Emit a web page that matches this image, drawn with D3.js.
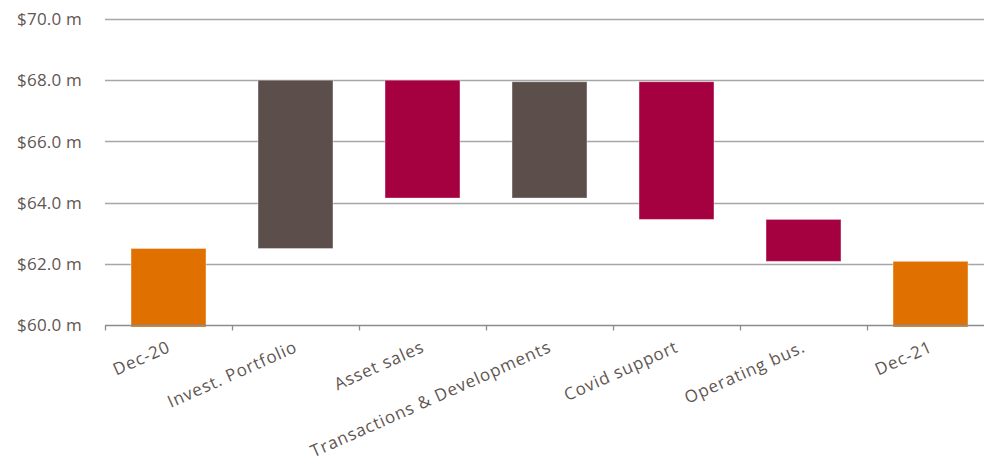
<!DOCTYPE html>
<html>
<head>
<meta charset="utf-8">
<script src="https://cdn.jsdelivr.net/npm/d3@7"></script>
<style>
  body { margin: 0; background: #fff; }
  text { font-family: "Century Gothic", "Open Sans", sans-serif; fill: #5f5652; }
</style>
</head>
<body>
<div id="chart"></div>
<script>
"use strict";

const categories = ["Dec-20", "Invest. Portfolio", "Asset sales", "Transactions & Developments",
  "Covid support", "Operating bus.", "Dec-21"];
const changes = [62.5, 5.5, -3.85, 3.8, -4.5, -1.37, null];
const kinds = ["total", "up", "down", "up", "down", "down", "total"];
const yTicks = [60, 62, 64, 66, 68, 70];

const colorFor = (kind) => {
  switch (kind) {
    case "total":
      return "#e07000";
    case "up":
      return "#5c4f4b";
    case "down":
      return "#a50040";
    default:
      return;
  }
};

// build the floating bars from running total
let running = 0;
const bars = categories.map((c, i) => {
  let lo, hi;
  if (kinds[i] === "total") {
    if (changes[i] !== null) running = changes[i];
    lo = 60; hi = running;
  } else {
    const before = running;
    running += changes[i];
    lo = Math.min(before, running);
    hi = Math.max(before, running);
  }
  return { name: c, lo: lo, hi: hi, kind: kinds[i] };
});

const w = 984, h = 465;
const svg = d3.select("#chart").append("svg").attr("width", w).attr("height", h);

const x = d3.scaleBand().domain(categories).range([105, 994])
  .paddingInner(0.41).paddingOuter(0.205);
const y = d3.scaleLinear().domain([60, 70]).range([325, 19]);

// gridlines + y labels
svg.append("g").selectAll("line").data(yTicks.slice(1)).enter().append("line")
  .attr("x1", 105).attr("x2", 994)
  .attr("y1", (d) => Math.round(y(d)) + 0.5).attr("y2", (d) => Math.round(y(d)) + 0.5)
  .attr("stroke", "#a6a6a6").attr("stroke-width", 1.3);

svg.append("g").selectAll("text").data(yTicks).enter().append("text")
  .attr("x", 82).attr("y", (d) => y(d)).attr("dy", "0.36em")
  .attr("text-anchor", "end").style("font-size", "17px").style("letter-spacing", "0.2px")
  .text((d) => "$" + d.toFixed(1) + " m");

// bars
svg.append("g").selectAll("rect").data(bars).enter().append("rect")
  .attr("x", (d) => x(d.name)).attr("width", x.bandwidth())
  .attr("y", (d) => y(d.hi)).attr("height", (d) => y(d.lo) - y(d.hi) + (d.lo === 60 ? 2 : 0))
  .attr("fill", (d) => colorFor(d.kind))
  .attr("stroke", "#fff").attr("stroke-opacity", 0.35).attr("stroke-width", 1);

// x axis on top of bars
const axisG = svg.append("g").attr("transform", "translate(0,325.5)");
axisG.append("line").attr("x1", 105).attr("x2", 994).attr("stroke", "#8c8c8c").attr("stroke-width", 1.3);
const step = x.step();
axisG.selectAll(".tk").data(d3.range(categories.length)).enter().append("line")
  .attr("x1", (i) => Math.round(105 + i * step) + 0.5).attr("x2", (i) => Math.round(105 + i * step) + 0.5)
  .attr("y1", 0).attr("y2", 5).attr("stroke", "#8c8c8c").attr("stroke-width", 1.3);

svg.append("g").selectAll("text").data(categories).enter().append("text")
  .attr("transform", (d) => "translate(" + (x(d) + x.bandwidth() / 2 - 2) + ",340) rotate(-24)")
  .attr("text-anchor", "end").attr("dy", "0.72em")
  .style("font-size", "17px").style("letter-spacing", "0.9px")
  .text((d) => d);
</script>
</body>
</html>
